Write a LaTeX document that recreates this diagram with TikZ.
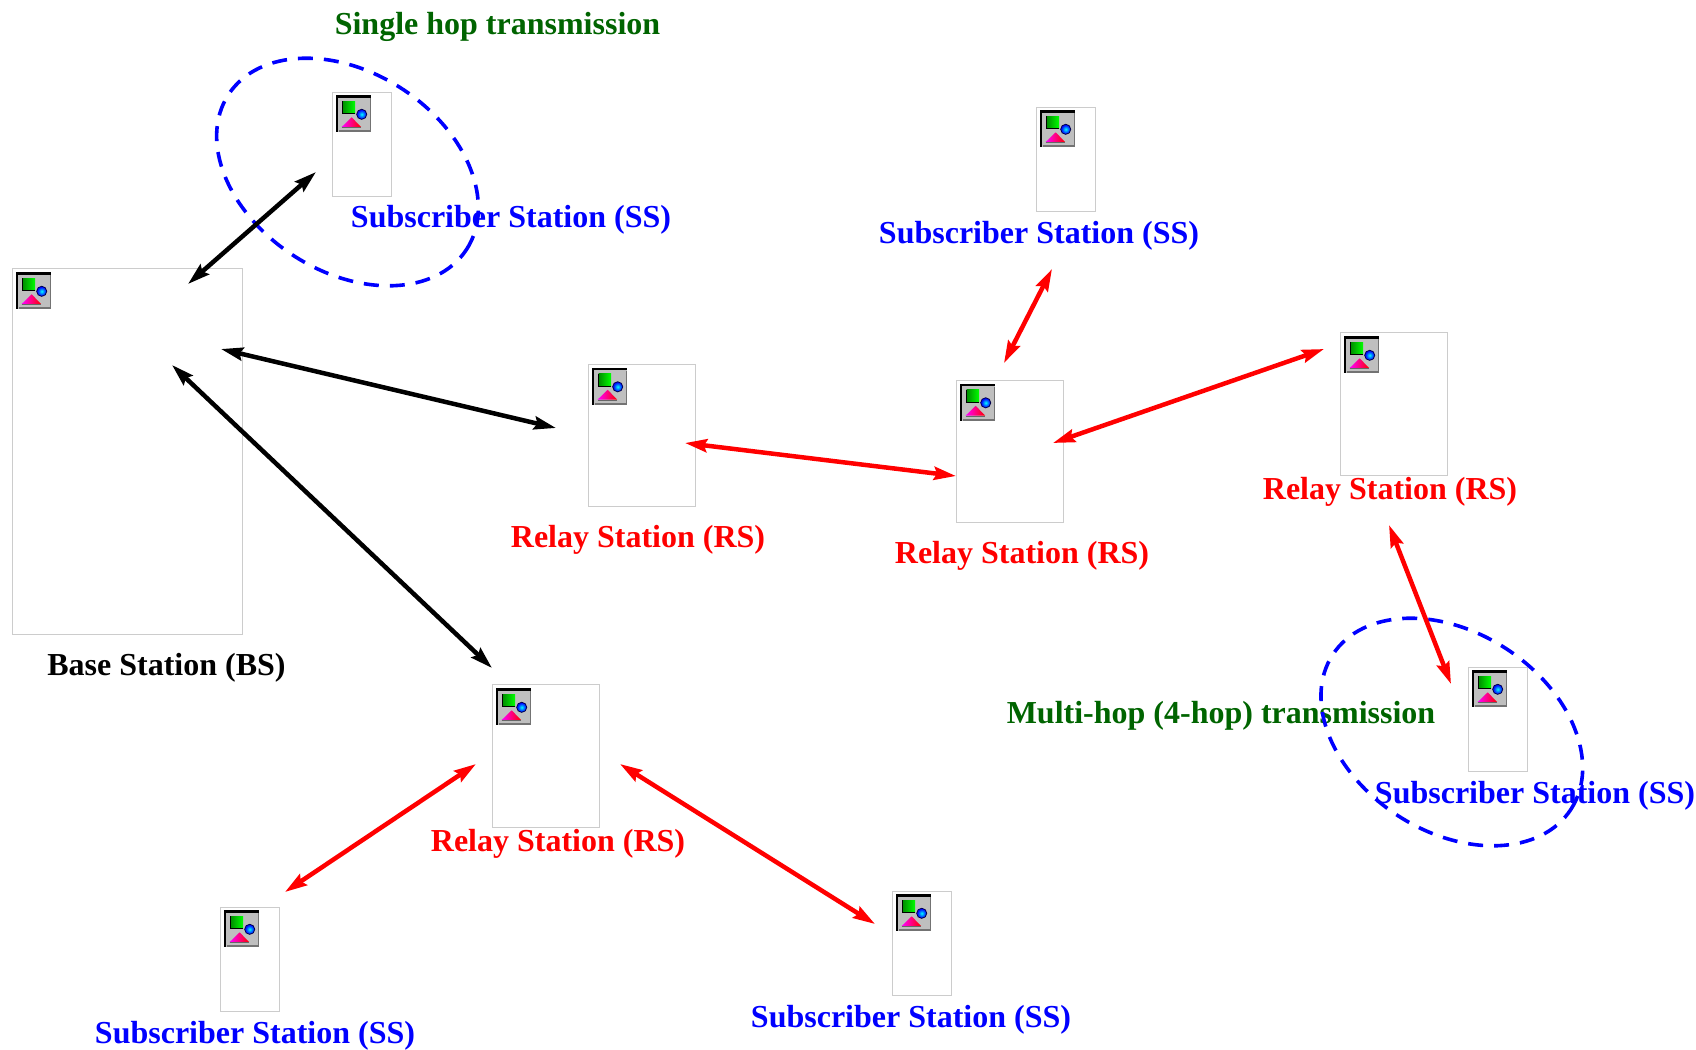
\documentclass[tikz,border=0pt]{standalone}
\usepackage{fontspec}
\setmainfont{Liberation Serif}
\usetikzlibrary{arrows.meta}
\definecolor{hopgreen}{RGB}{0,100,0}
\tikzset{
  stationbox/.style={draw=black!20,line width=1.4pt,fill=none,inner sep=0pt,anchor=north west,rectangle},
  smallbox/.style={stationbox,minimum width=59pt,minimum height=103.5pt},
  relaybox/.style={stationbox,minimum width=107pt,minimum height=142.5pt},
  basebox/.style={stationbox,minimum width=230pt,minimum height=366pt},
  label/.style={font=\fontsize{32}{35}\selectfont\bfseries,anchor=base,inner sep=0pt},
  sslabel/.style={label,text=blue},
  rslabel/.style={label,text=red},
  bslabel/.style={label,text=black},
  hoplabel/.style={label,text=hopgreen},
  link/.style={line width=4.5pt,{Stealth[length=22pt,width=13pt,inset=3pt]}-{Stealth[length=22pt,width=13pt,inset=3pt]}},
  blacklink/.style={link,draw=black},
  redlink/.style={link,draw=red},
  hopring/.style={draw=blue,line width=3.6pt,dash pattern=on 15pt off 11pt},
  iconpic/.pic={
    \fill[black] (0,0) rectangle (35,37);
    \fill[black!25] (2,2.5) rectangle (35,37);
    \fill[black!55] (3,35) rectangle (35,37);
    \fill[black!55] (33.5,3) rectangle (35,37);
    \shade[left color=green!55!black,right color=green] (6.5,6) rectangle (19,18.5);
    \draw[black,line width=1pt] (6.5,6) -- (6.5,18.5) -- (19,18.5);
    \fill[black!70!blue] (25.7,19.3) circle [radius=5.5pt];
    \shade[inner color=cyan,outer color=blue] (25.7,19.3) circle [radius=4.5pt];
    \shade[left color=magenta,right color=red] (15.7,22.3) -- (25,32) -- (5.7,32) -- cycle;
    \draw[black!60,line width=1pt] (5.7,32.5) -- (25,32.5);
  }
}
\begin{document}
\begin{tikzpicture}[x=1pt,y=-1pt]
\useasboundingbox (0,0) rectangle (1696,1049);
% stations
\node[smallbox] (ssa) at (332,92) {};
\node[smallbox] (ssb) at (1036,107) {};
\node[smallbox] (ssc) at (1468,667) {};
\node[smallbox] (ssd) at (220,907) {};
\node[smallbox] (sse) at (892,891) {};
\node[relaybox] (rsa) at (588,363.5) {};
\node[relaybox] (rsb) at (956,379.5) {};
\node[relaybox] (rsc) at (1340,332) {};
\node[relaybox] (rsd) at (492,684) {};
\node[basebox] (bs) at (12,268) {};
\foreach \n/\dy in {ssa/3,ssb/3,ssc/3,ssd/3,sse/3,rsa/4,rsb/4,rsc/4,rsd/4,bs/4}
  \pic at ([xshift=4pt,yshift=-\dy pt]\n.north west) {iconpic};
% labels
\node[hoplabel] (hopa) at (497.5,35) {Single hop transmission};
\node[hoplabel] (hopb) at (1221,723) {Multi-hop (4-hop) transmission};
\node[sslabel] (lssa) at (511,227) {Subscriber Station (SS)};
\node[sslabel] (lssb) at (1039,243) {Subscriber Station (SS)};
\node[sslabel] (lssc) at (1535,803) {Subscriber Station (SS)};
\node[sslabel] (lssd) at (255,1043) {Subscriber Station (SS)};
\node[sslabel] (lsse) at (911,1027) {Subscriber Station (SS)};
\node[rslabel] (lrsa) at (638,547) {Relay Station (RS)};
\node[rslabel] (lrsb) at (1022,563) {Relay Station (RS)};
\node[rslabel] (lrsc) at (1390,499) {Relay Station (RS)};
\node[rslabel] (lrsd) at (558,851) {Relay Station (RS)};
\node[bslabel] (lbs) at (166.5,675) {Base Station (BS)};
% rings
\coordinate (ringa) at (347.5,172);
\coordinate (ringb) at (1451.8,732);
\draw[hopring] (ringa) circle [x radius=142pt,y radius=99.5pt,rotate=-33];
\draw[hopring] (ringb) circle [x radius=142pt,y radius=99.5pt,rotate=-33];
% connector ends
\coordinate (e1a) at (188,284); \coordinate (e1b) at (316,172);
\coordinate (e2a) at (221,349); \coordinate (e2b) at (556,428);
\coordinate (e3a) at (172,365); \coordinate (e3b) at (492,668);
\coordinate (e4a) at (685,443); \coordinate (e4b) at (956,476);
\coordinate (e5a) at (1004,363); \coordinate (e5b) at (1052,269);
\coordinate (e6a) at (1053,443); \coordinate (e6b) at (1324,349);
\coordinate (e7a) at (1389,525); \coordinate (e7b) at (1451,684);
\coordinate (e8a) at (285,892); \coordinate (e8b) at (476,764);
\coordinate (e9a) at (620,764); \coordinate (e9b) at (875,924);
\draw[blacklink] (e1a) -- (e1b);
\draw[blacklink] (e2a) -- (e2b);
\draw[blacklink] (e3a) -- (e3b);
\draw[redlink] (e4a) -- (e4b);
\draw[redlink] (e5a) -- (e5b);
\draw[redlink] (e6a) -- (e6b);
\draw[redlink] (e7a) -- (e7b);
\draw[redlink] (e8a) -- (e8b);
\draw[redlink] (e9a) -- (e9b);
\end{tikzpicture}
\end{document}
